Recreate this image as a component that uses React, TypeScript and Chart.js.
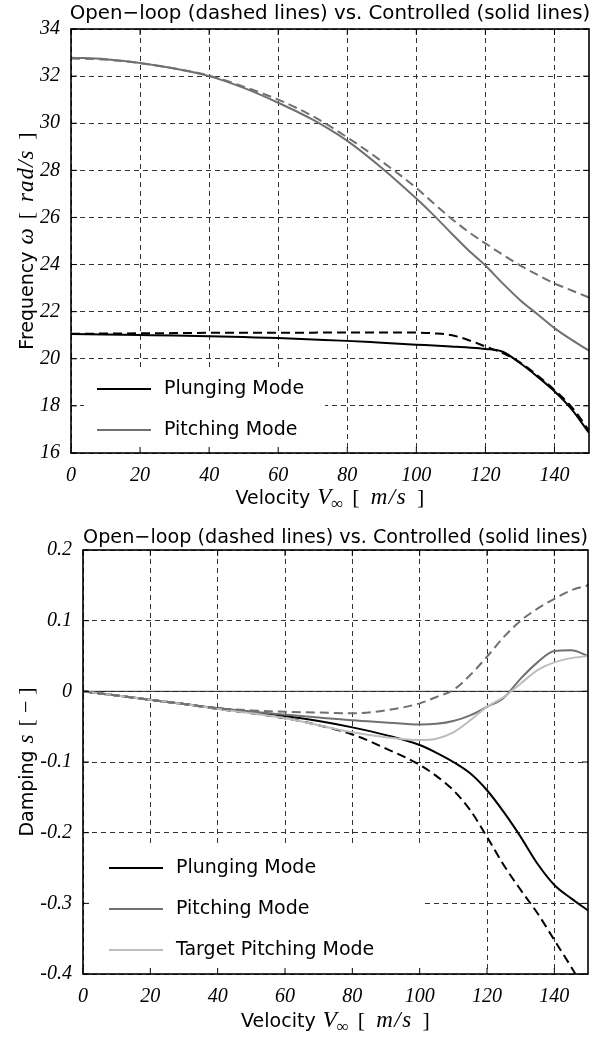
import React, { useEffect, useRef } from 'react';
import { Chart, registerables } from 'chart.js';
Chart.register(...registerables);

// ---------- data ----------
const velocity = [0, 10, 20, 30, 40, 50, 60, 70, 80, 90, 100, 105, 110, 115, 120, 125, 130, 135, 140, 145, 150];

const freqPlungingControlled = [21.05, 21.03, 21.01, 20.99, 20.96, 20.92, 20.88, 20.82, 20.76, 20.68, 20.6, 20.56, 20.52, 20.48, 20.42, 20.3, 19.82, 19.25, 18.62, 17.85, 16.85];
const freqPlungingOpen = [21.06, 21.07, 21.08, 21.09, 21.1, 21.1, 21.11, 21.11, 21.12, 21.12, 21.11, 21.08, 21.01, 20.8, 20.52, 20.24, 19.85, 19.3, 18.68, 17.95, 16.95];
const freqPitchingControlled = [32.78, 32.72, 32.56, 32.32, 32.0, 31.5, 30.87, 30.15, 29.25, 28.1, 26.8, 26.1, 25.35, 24.62, 23.96, 23.2, 22.5, 21.9, 21.3, 20.8, 20.35];
const freqPitchingOpen = [32.75, 32.7, 32.55, 32.32, 32.02, 31.55, 31.0, 30.3, 29.4, 28.38, 27.25, 26.6, 25.97, 25.4, 24.9, 24.42, 23.97, 23.57, 23.2, 22.9, 22.6];

const dampPlungingControlled = [0, -0.006, -0.012, -0.018, -0.024, -0.029, -0.035, -0.042, -0.051, -0.062, -0.076, -0.087, -0.1, -0.116, -0.14, -0.171, -0.206, -0.244, -0.274, -0.293, -0.31];
const dampPlungingOpen = [0, -0.006, -0.012, -0.018, -0.025, -0.031, -0.038, -0.048, -0.061, -0.081, -0.104, -0.12, -0.14, -0.168, -0.206, -0.246, -0.281, -0.314, -0.352, -0.39, -0.43];
const dampPitchingControlled = [0, -0.006, -0.012, -0.018, -0.024, -0.029, -0.033, -0.037, -0.041, -0.044, -0.047, -0.046, -0.042, -0.034, -0.022, -0.009, 0.018, 0.041, 0.057, 0.058, 0.05];
const dampPitchingOpen = [0, -0.006, -0.012, -0.018, -0.024, -0.027, -0.029, -0.03, -0.031, -0.027, -0.017, -0.008, 0.002, 0.023, 0.049, 0.077, 0.1, 0.117, 0.131, 0.143, 0.15];
const dampTargetPitching = [0, -0.006, -0.012, -0.018, -0.025, -0.031, -0.038, -0.048, -0.058, -0.065, -0.069, -0.067, -0.058, -0.041, -0.022, -0.008, 0.011, 0.03, 0.041, 0.047, 0.05];

const chartTitle = 'Open\u2212loop (dashed lines) vs. Controlled (solid lines)';
const legendTop = ['Plunging Mode', 'Pitching Mode'];
const legendBottom = ['Plunging Mode', 'Pitching Mode', 'Target Pitching Mode'];

// ---------- styles ----------
const BLACK = '#000000';
const GRAY = '#707070';
const LIGHT = '#bdbdbd';
const SANS = '"DejaVu Sans", sans-serif';
const SERIF = '"Liberation Serif", serif';
const LINE_DASH = [9, 5];
const GRID_DASH = [5, 4];

type Seg = { t: string; f: string; dy?: number; pad?: number; ls?: number };

const sansF = (s: number) => `${s}px ${SANS}`;
const serF = (s: number) => `${s}px ${SERIF}`;
const itF = (s: number) => `italic ${s}px ${SERIF}`;

const velocitySegs: Seg[] = [
  { t: 'Velocity', f: sansF(19), pad: 7 },
  { t: 'V', f: itF(23) },
  { t: '\u221E', f: serF(17), dy: 5, pad: 9 },
  { t: '[', f: serF(22), pad: 11 },
  { t: 'm/s', f: itF(23), ls: 1.5, pad: 10 },
  { t: ']', f: serF(22) },
];
const freqSegs: Seg[] = [
  { t: 'Frequency', f: sansF(19), pad: 7 },
  { t: '\u03C9', f: itF(23), pad: 9 },
  { t: '[', f: serF(22), pad: 10 },
  { t: 'rad/s', f: itF(23), ls: 1, pad: 10 },
  { t: ']', f: serF(22) },
];
const dampSegs: Seg[] = [
  { t: 'Damping', f: sansF(19), pad: 7 },
  { t: 's', f: itF(23), pad: 8 },
  { t: '[', f: serF(22), pad: 6 },
  { t: '\u2212', f: serF(22), pad: 6 },
  { t: ']', f: serF(22) },
];

function drawMixed(ctx: any, segs: Seg[], cx: number, cy: number, rotate: boolean) {
  ctx.save();
  ctx.translate(cx, cy);
  if (rotate) ctx.rotate(-Math.PI / 2);
  ctx.textBaseline = 'alphabetic';
  ctx.textAlign = 'left';
  let total = 0;
  const widths = segs.map((s) => {
    ctx.font = s.f;
    ctx.letterSpacing = `${s.ls || 0}px`;
    const w = ctx.measureText(s.t).width + (s.pad || 0);
    total += w;
    return w;
  });
  let x = -total / 2;
  segs.forEach((s, i) => {
    ctx.font = s.f;
    ctx.letterSpacing = `${s.ls || 0}px`;
    ctx.fillStyle = '#000';
    ctx.fillText(s.t, x, s.dy || 0);
    x += widths[i];
  });
  ctx.letterSpacing = '0px';
  ctx.restore();
}

const decorPlugin = {
  id: 'decor',
  beforeDatasetsDraw(chart: any, _args: any, opts: any) {
    const { ctx, chartArea: a } = chart;
    ctx.save();
    if (opts.zeroLine) {
      const y = chart.scales.y.getPixelForValue(0);
      ctx.strokeStyle = '#222';
      ctx.lineWidth = 1;
      ctx.beginPath();
      ctx.moveTo(a.left, y);
      ctx.lineTo(a.right, y);
      ctx.stroke();
    }
    const L = opts.legend;
    ctx.fillStyle = '#fff';
    ctx.fillRect(a.left + L.x, a.top + L.y, L.w, L.h);
    L.items.forEach((it: any, i: number) => {
      const y = a.top + L.firstRow + i * L.rowGap;
      ctx.strokeStyle = it.color;
      ctx.lineWidth = 2;
      ctx.setLineDash([]);
      ctx.beginPath();
      ctx.moveTo(a.left + L.lineX0, y);
      ctx.lineTo(a.left + L.lineX1, y);
      ctx.stroke();
      ctx.fillStyle = '#000';
      ctx.font = sansF(19);
      ctx.textBaseline = 'middle';
      ctx.textAlign = 'left';
      ctx.fillText(it.text, a.left + L.textX, y);
    });
    ctx.restore();
  },
  afterDraw(chart: any, _args: any, opts: any) {
    const { ctx, chartArea: a } = chart;
    ctx.save();
    ctx.strokeStyle = '#000';
    ctx.lineWidth = 1;
    const tl = 6;
    chart.scales.x.ticks.forEach((t: any) => {
      const x = chart.scales.x.getPixelForValue(t.value);
      ctx.beginPath();
      ctx.moveTo(x, a.bottom);
      ctx.lineTo(x, a.bottom - tl);
      ctx.moveTo(x, a.top);
      ctx.lineTo(x, a.top + tl);
      ctx.stroke();
    });
    chart.scales.y.ticks.forEach((t: any) => {
      const y = chart.scales.y.getPixelForValue(t.value);
      ctx.beginPath();
      ctx.moveTo(a.left, y);
      ctx.lineTo(a.left + tl, y);
      ctx.moveTo(a.right, y);
      ctx.lineTo(a.right - tl, y);
      ctx.stroke();
    });
    ctx.lineWidth = 1.6;
    ctx.strokeRect(a.left, a.top, a.right - a.left, a.bottom - a.top);
    ctx.fillStyle = '#000';
    ctx.font = sansF(opts.titleSize);
    ctx.textAlign = 'center';
    ctx.textBaseline = 'alphabetic';
    ctx.fillText(opts.title, (a.left + a.right) / 2, opts.titleBaseline);
    drawMixed(ctx, opts.xSegs, (a.left + a.right) / 2, opts.xTitleBaseline, false);
    drawMixed(ctx, opts.ySegs, opts.yTitleBaseline, (a.top + a.bottom) / 2, true);
    ctx.restore();
  },
};

function series(label: string, ys: number[], color: string, dashed: boolean) {
  return {
    label,
    data: velocity.map((v, i) => ({ x: v, y: ys[i] })),
    borderColor: color,
    backgroundColor: color,
    borderWidth: 2,
    borderDash: dashed ? LINE_DASH : [],
    pointRadius: 0,
    fill: false,
    cubicInterpolationMode: 'monotone' as const,
  };
}

const tickFont = { family: '"Liberation Serif", serif', style: 'italic' as const, size: 20 };

function makeScales(yMin: number, yMax: number, yStep: number, yWidth: number, fmt: (v: number) => string) {
  return {
    x: {
      type: 'linear' as const,
      min: 0,
      max: 150,
      ticks: { stepSize: 20, includeBounds: false, font: tickFont, color: '#000', padding: 11, maxRotation: 0 },
      grid: { color: '#333', lineWidth: 1, drawTicks: false },
      border: { display: false, dash: GRID_DASH },
      afterFit: (s: any) => { s.height = 67; },
    },
    y: {
      type: 'linear' as const,
      min: yMin,
      max: yMax,
      ticks: { stepSize: yStep, font: tickFont, color: '#000', padding: 11, callback: (v: any) => fmt(Number(v)) },
      grid: { color: '#333', lineWidth: 1, drawTicks: false },
      border: { display: false, dash: GRID_DASH },
      afterFit: (s: any) => { s.width = yWidth; },
    },
  };
}

function TopChart() {
  const ref = useRef<HTMLCanvasElement>(null);
  useEffect(() => {
    const chart = new Chart(ref.current!, {
      type: 'line',
      data: {
        datasets: [
          series('Plunging Mode (open)', freqPlungingOpen, BLACK, true),
          series('Plunging Mode', freqPlungingControlled, BLACK, false),
          series('Pitching Mode (open)', freqPitchingOpen, GRAY, true),
          series('Pitching Mode', freqPitchingControlled, GRAY, false),
        ],
      },
      options: {
        responsive: false,
        animation: false,
        devicePixelRatio: 1,
        layout: { padding: { top: 29, right: 1, left: 0, bottom: 0 } },
        scales: makeScales(16, 34, 2, 71, (v) => String(Math.round(v))),
        plugins: {
          legend: { display: false },
          title: { display: false },
          tooltip: { enabled: false },
          decor: {
            title: chartTitle,
            titleSize: 19.8,
            titleBaseline: 19,
            xSegs: velocitySegs,
            xTitleBaseline: 504,
            ySegs: freqSegs,
            yTitleBaseline: 33,
            zeroLine: false,
            legend: {
              x: 13, y: 339, w: 241, h: 81,
              firstRow: 360, rowGap: 41,
              lineX0: 26, lineX1: 80, textX: 93,
              items: [
                { text: legendTop[0], color: BLACK },
                { text: legendTop[1], color: GRAY },
              ],
            },
          },
        } as any,
      },
      plugins: [decorPlugin],
    });
    return () => chart.destroy();
  }, []);
  return <canvas ref={ref} width={590} height={520} style={{ position: 'absolute', left: 0, top: 0 }} />;
}

function BottomChart() {
  const ref = useRef<HTMLCanvasElement>(null);
  useEffect(() => {
    const chart = new Chart(ref.current!, {
      type: 'line',
      data: {
        datasets: [
          series('Pitching Mode (open)', dampPitchingOpen, GRAY, true),
          series('Target Pitching Mode', dampTargetPitching, LIGHT, false),
          series('Pitching Mode', dampPitchingControlled, GRAY, false),
          series('Plunging Mode (open)', dampPlungingOpen, BLACK, true),
          series('Plunging Mode', dampPlungingControlled, BLACK, false),
        ],
      },
      options: {
        responsive: false,
        animation: false,
        devicePixelRatio: 1,
        layout: { padding: { top: 30, right: 2, left: 0, bottom: 0 } },
        scales: makeScales(-0.4, 0.2, 0.1, 83, (v) => {
          const r = Math.round(v * 10) / 10;
          return r === 0 ? '0' : r.toFixed(1);
        }),
        plugins: {
          legend: { display: false },
          title: { display: false },
          tooltip: { enabled: false },
          decor: {
            title: chartTitle,
            titleSize: 19.2,
            titleBaseline: 23,
            xSegs: velocitySegs,
            xTitleBaseline: 507,
            ySegs: dampSegs,
            yTitleBaseline: 33,
            zeroLine: true,
            legend: {
              x: 2, y: 297, w: 340, h: 124,
              firstRow: 318, rowGap: 41,
              lineX0: 26, lineX1: 80, textX: 93,
              items: [
                { text: legendBottom[0], color: BLACK },
                { text: legendBottom[1], color: GRAY },
                { text: legendBottom[2], color: LIGHT },
              ],
            },
          },
        } as any,
      },
      plugins: [decorPlugin],
    });
    return () => chart.destroy();
  }, []);
  return <canvas ref={ref} width={590} height={521} style={{ position: 'absolute', left: 0, top: 520 }} />;
}

export default function App() {
  return (
    <div style={{ position: 'absolute', left: 0, top: 0, width: 590, height: 1041, background: '#fff' }}>
      <TopChart />
      <BottomChart />
    </div>
  );
}
